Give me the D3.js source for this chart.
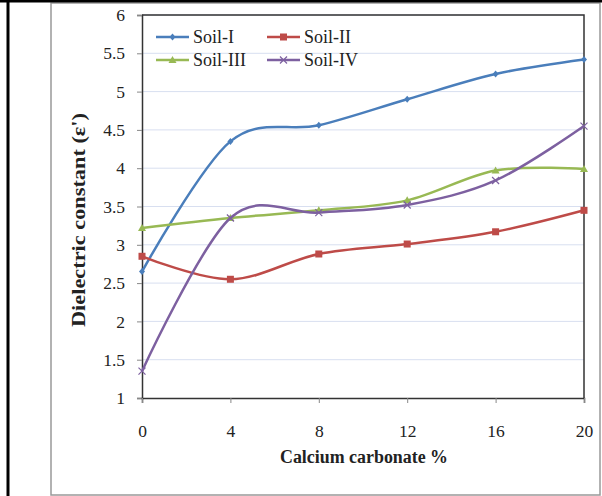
<!doctype html>
<html>
<head>
<meta charset="utf-8">
<script src="https://d3js.org/d3.v7.min.js"></script>
<style>
  body { margin: 0; background: #fff; }
  text { font-family: "Liberation Serif", "Times New Roman", serif; fill: #222; }
</style>
</head>
<body>
<div id="chart"></div>
<script>
  // calcium carbonate % on x, dielectric constant on y
  const carbonate = [0, 4, 8, 12, 16, 20];
  const soil1 = [2.65, 4.35, 4.56, 4.90, 5.23, 5.42];
  const soil2 = [2.85, 2.55, 2.88, 3.01, 3.17, 3.45];
  const soil3 = [3.22, 3.35, 3.45, 3.58, 3.97, 3.99];
  const soil4 = [1.35, 3.35, 3.42, 3.52, 3.84, 4.55];
  const seriesNames = ["Soil-I", "Soil-II", "Soil-III", "Soil-IV"];
  const yTicks = [1, 1.5, 2, 2.5, 3, 3.5, 4, 4.5, 5, 5.5, 6];

  const series = [
    { name: seriesNames[0], values: soil1, color: "#4a7ebb", marker: "diamond" },
    { name: seriesNames[1], values: soil2, color: "#be4b48", marker: "square" },
    { name: seriesNames[2], values: soil3, color: "#98b954", marker: "triangle" },
    { name: seriesNames[3], values: soil4, color: "#7d60a0", marker: "cross" }
  ];

  const W = 602, H = 496;
  const svg = d3.select("#chart").append("svg").attr("width", W).attr("height", H);

  // frame around the picture
  svg.append("rect").attr("x", 51).attr("y", 3).attr("width", 549).attr("height", 492)
    .attr("fill", "none").attr("stroke", "#999").attr("stroke-width", 1.5);
  svg.append("line").attr("x1", 0).attr("x2", W).attr("y1", 1).attr("y2", 1)
    .attr("stroke", "#000").attr("stroke-width", 3);
  svg.append("line").attr("x1", 8).attr("x2", 8).attr("y1", 0).attr("y2", H)
    .attr("stroke", "#000").attr("stroke-width", 3);

  const x = d3.scaleLinear().domain([0, 20]).range([142, 584]);
  const y = d3.scaleLinear().domain([1, 6]).range([398, 15]);

  // gridlines
  svg.append("g").selectAll("line").data(yTicks.slice(1)).join("line")
    .attr("x1", x(0)).attr("x2", x(20))
    .attr("y1", d => y(d)).attr("y2", d => y(d))
    .attr("stroke", "#d8dff0").attr("stroke-width", 1);

  // plot border top / right
  svg.append("path")
    .attr("d", `M${x(0)},${y(6)}H${x(20)}V${y(1)}`)
    .attr("fill", "none").attr("stroke", "#333").attr("stroke-width", 1.5);

  const yAxis = svg.append("g").attr("transform", `translate(${x(0)},0)`)
    .call(d3.axisLeft(y).tickValues(yTicks).tickSize(5).tickPadding(12).tickFormat(d3.format("")));
  const xAxis = svg.append("g").attr("transform", `translate(0,${y(1)})`)
    .call(d3.axisBottom(x).tickValues(carbonate).tickSize(5).tickPadding(22));
  [yAxis, xAxis].forEach(a => {
    a.select(".domain").attr("stroke", "#333").attr("stroke-width", 1.5);
    a.selectAll(".tick line").attr("stroke", "#888");
    a.selectAll(".tick text").attr("font-family", "Liberation Serif").attr("font-size", 17.5).attr("fill", "#222");
  });

  const line = d3.line()
    .x((d, i) => x(carbonate[i]))
    .y(d => y(d))
    .curve(d3.curveCardinal.tension(0));

  function marker(g, type, color, cx, cy) {
    if (type === "diamond") {
      g.append("path").attr("d", `M${cx},${cy - 3.5}L${cx + 3},${cy}L${cx},${cy + 3.5}L${cx - 3},${cy}Z`).attr("fill", color);
    } else if (type === "square") {
      g.append("rect").attr("x", cx - 3.5).attr("y", cy - 3.5).attr("width", 7).attr("height", 7).attr("fill", color);
    } else if (type === "triangle") {
      g.append("path").attr("d", `M${cx},${cy - 4}L${cx + 4},${cy + 3}L${cx - 4},${cy + 3}Z`).attr("fill", color);
    } else {
      g.append("path").attr("d", `M${cx - 3.5},${cy - 3.5}L${cx + 3.5},${cy + 3.5}M${cx - 3.5},${cy + 3.5}L${cx + 3.5},${cy - 3.5}`)
        .attr("stroke", color).attr("stroke-width", 1.2);
    }
  }

  series.forEach(s => {
    svg.append("path").datum(s.values).attr("d", line)
      .attr("fill", "none").attr("stroke", s.color).attr("stroke-width", 2.5);
    const g = svg.append("g");
    s.values.forEach((v, i) => marker(g, s.marker, s.color, x(carbonate[i]), y(v)));
  });

  // legend
  const legendPos = [[156, 37], [267, 37], [156, 60], [267, 60]];
  series.forEach((s, i) => {
    const [lx, ly] = legendPos[i];
    const g = svg.append("g");
    g.append("line").attr("x1", lx).attr("x2", lx + 33).attr("y1", ly).attr("y2", ly)
      .attr("stroke", s.color).attr("stroke-width", 2.5);
    marker(g, s.marker, s.color, lx + 16.5, ly);
    g.append("text").attr("x", lx + 37).attr("y", ly + 6).attr("font-size", 18).text(s.name);
  });

  // axis titles
  svg.append("text").attr("x", 364).attr("y", 463).attr("text-anchor", "middle")
    .attr("font-size", 18).attr("font-weight", "bold")
    .attr("textLength", 168).attr("lengthAdjust", "spacingAndGlyphs")
    .text("Calcium carbonate %");
  svg.append("text").attr("transform", "translate(85,220) rotate(-90)").attr("text-anchor", "middle")
    .attr("font-size", 18).attr("font-weight", "bold")
    .attr("textLength", 214).attr("lengthAdjust", "spacingAndGlyphs")
    .text("Dielectric constant (ε')");
</script>
</body>
</html>
